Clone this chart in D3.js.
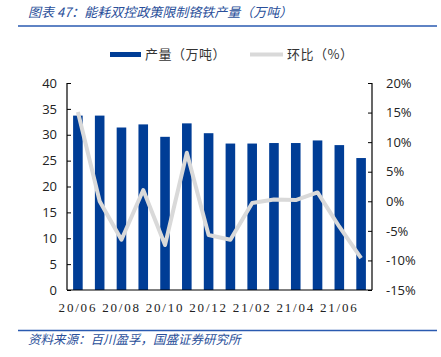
<!DOCTYPE html>
<html><head><meta charset="utf-8">
<script src="https://cdn.jsdelivr.net/npm/d3@7"></script>
<style>body{margin:0;background:#fff}svg{display:block}</style>
</head><body>
<script>
const months = ["20/06","20/07","20/08","20/09","20/10","20/11","20/12","21/01","21/02","21/03","21/04","21/05","21/06","21/07"];
const output = [33.7,33.7,31.4,32.0,29.6,32.2,30.3,28.3,28.3,28.4,28.4,28.9,28.0,25.5];
const mom = [15.1,0.0,-6.5,1.9,-7.4,8.2,-5.7,-6.5,-0.3,0.3,0.2,1.5,-4.3,-9.6];
const leftTicks = [0,5,10,15,20,25,30,35,40];
const rightTicks = [-15,-10,-5,0,5,10,15,20];
const xLabels = ["20/06","20/08","20/10","20/12","21/02","21/04","21/06"];
const title = "图表 47：能耗双控政策限制铬铁产量（万吨）";
const source = "资料来源：百川盈孚，国盛证券研究所";
const legendNames = ["产量（万吨）","环比（%）"];

const W=441,H=357;
const svg=d3.select("body").append("svg").attr("width",W).attr("height",H);
const m={l:67,r:372,t:83,b:290};
const x=d3.scaleBand().domain(months).range([m.l,m.r]).paddingInner(0.56).paddingOuter(0.28);
const yL=d3.scaleLinear().domain([0,40]).range([m.b,m.t]);
const yR=d3.scaleLinear().domain([-15,20]).range([m.b,m.t]);
const blue="#003d96", gray="#d9d9d9";
const cjk="'Noto Sans CJK SC','Noto Sans',sans-serif";

// title
svg.append("text").attr("x",28).attr("y",17).attr("font-family",cjk).attr("font-style","italic")
  .attr("font-size",13).attr("fill","#2a4f9a").text(title);
svg.append("line").attr("x1",18).attr("x2",437).attr("y1",26).attr("y2",26).attr("stroke","#2a5ab0").attr("stroke-width",1.5);

// bars
svg.selectAll("rect.bar").data(output).join("rect").attr("class","bar")
  .attr("x",(d,i)=>x(months[i])).attr("width",x.bandwidth())
  .attr("y",d=>yL(d)).attr("height",d=>yL(0)-yL(d)).attr("fill",blue);

// line
const line=d3.line().x((d,i)=>x(months[i])+x.bandwidth()/2).y(d=>yR(d));
svg.append("path").datum(mom).attr("d",line).attr("fill","none").attr("stroke",gray).attr("stroke-width",4).attr("stroke-linejoin","round");

// axes
const ax=svg.append("g").attr("transform",`translate(${m.l},0)`)
  .call(d3.axisLeft(yL).tickValues(leftTicks).tickSize(-4).tickPadding(10));
const axR=svg.append("g").attr("transform",`translate(${m.r},0)`)
  .call(d3.axisRight(yR).tickValues(rightTicks).tickSize(-4).tickPadding(14).tickFormat(d=>d+"%"));
[ax,axR].forEach(g=>{g.select(".domain").attr("stroke","#000").attr("stroke-width",1.2);
  g.selectAll(".tick line").attr("stroke","#000");
  g.selectAll("text").attr("font-family","'Open Sans','DejaVu Sans',sans-serif").attr("font-size",13).attr("fill","#222");});
ax.select(".domain").attr("d",`M0,${m.t}V${m.b}`);
axR.select(".domain").attr("d",`M0,${m.t}V${m.b}`);
svg.append("line").attr("x1",m.l).attr("x2",m.r).attr("y1",m.b).attr("y2",m.b).attr("stroke","#000").attr("stroke-width",1.2);
const ax2=svg.append("g").attr("transform",`translate(0,${m.b})`)
  .call(d3.axisBottom(x).tickValues(xLabels).tickSize(0).tickPadding(13));
ax2.select(".domain").remove();
ax2.selectAll("text").attr("font-family","'Liberation Serif','DejaVu Serif',serif").attr("font-size",13)
  .attr("letter-spacing","1.8px").attr("fill","#222");

// legend
const lg=svg.append("g");
lg.append("rect").attr("x",110).attr("y",52).attr("width",31).attr("height",5).attr("fill",blue);
lg.append("text").attr("x",145).attr("y",59).attr("font-family",cjk).attr("font-size",13).attr("letter-spacing","0.5px").attr("fill","#333").text(legendNames[0]);
lg.append("line").attr("x1",250).attr("x2",283).attr("y1",54.5).attr("y2",54.5).attr("stroke",gray).attr("stroke-width",4);
lg.append("text").attr("x",287).attr("y",59).attr("font-family",cjk).attr("font-size",13).attr("letter-spacing","0.5px").attr("fill","#333").text(legendNames[1]);

// source
svg.append("line").attr("x1",18).attr("x2",437).attr("y1",330.5).attr("y2",330.5).attr("stroke","#2a5ab0").attr("stroke-width",1.5);
svg.append("text").attr("x",28).attr("y",344).attr("font-family",cjk).attr("font-style","italic")
  .attr("font-size",12.5).attr("fill","#2a4f9a").text(source);
</script>
</body></html>
